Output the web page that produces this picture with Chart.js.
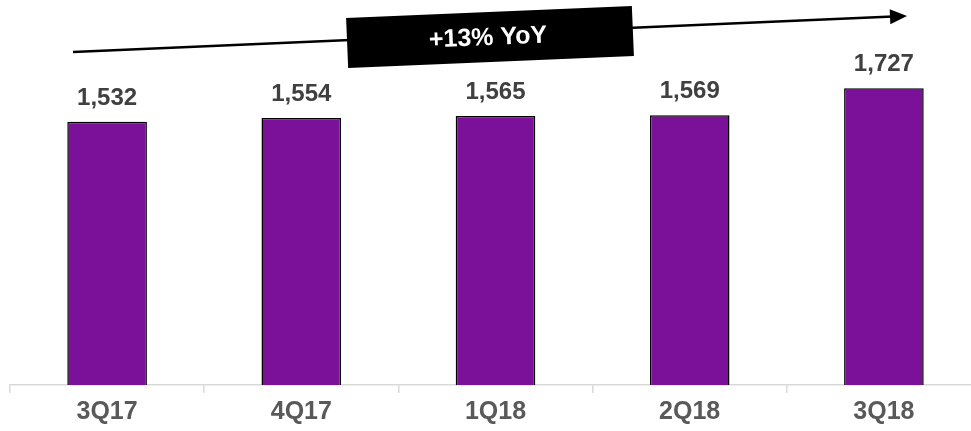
<!DOCTYPE html>
<html>
<head>
<meta charset="utf-8">
<script src="https://cdn.jsdelivr.net/npm/chart.js@4/dist/chart.umd.min.js"></script>
<style>
  html, body { margin: 0; padding: 0; background: #fff; overflow: hidden; }
  #wrap { width: 991px; height: 431px; position: relative; }
</style>
</head>
<body>
<div id="wrap"><canvas id="quarterChart"></canvas></div>
<script>
// quarterly totals
const quarters = ['3Q17', '4Q17', '1Q18', '2Q18', '3Q18'];
const totals = [1532, 1554, 1565, 1569, 1727];
const growthLabel = '+13% YoY';

const BAR_PURPLE = '#7b1199';
const FONT = '"Liberation Sans", Arial, sans-serif';

// value above each bar
const valueLabels = {
    id: 'valueLabels',
    afterDatasetsDraw(chart) {
        const ctx = chart.ctx;
        const meta = chart.getDatasetMeta(0);
        ctx.save();
        ctx.font = 'bold 24px ' + FONT;
        ctx.fillStyle = '#404040';
        ctx.textAlign = 'center';
        ctx.textBaseline = 'alphabetic';
        meta.data.forEach((bar, i) => {
            ctx.fillText(totals[i].toLocaleString('en-US'), bar.x, bar.y - 17);
        });
        ctx.restore();
    }
};

// growth arrow with the tilted black tag
const growthArrow = {
    id: 'growthArrow',
    afterDraw(chart) {
        const ctx = chart.ctx;
        const x0 = 73, y0 = 52, x1 = 907, y1 = 16;
        const ang = Math.atan2(y1 - y0, x1 - x0);
        ctx.save();
        ctx.strokeStyle = '#000';
        ctx.lineWidth = 2.5;
        ctx.beginPath();
        ctx.moveTo(x0, y0);
        ctx.lineTo(x1 - 14 * Math.cos(ang), y1 - 14 * Math.sin(ang));
        ctx.stroke();

        // head
        ctx.translate(x1, y1);
        ctx.rotate(ang);
        ctx.fillStyle = '#000';
        ctx.beginPath();
        ctx.moveTo(0, 0);
        ctx.lineTo(-17, -7.5);
        ctx.lineTo(-17, 7.5);
        ctx.closePath();
        ctx.fill();
        ctx.restore();

        // tag
        ctx.save();
        ctx.translate(490, 37);
        ctx.rotate(-2.4 * Math.PI / 180);
        ctx.fillStyle = '#000';
        ctx.fillRect(-143, -25, 286, 50);
        ctx.fillStyle = '#fff';
        ctx.font = 'bold 25px ' + FONT;
        ctx.textAlign = 'center';
        ctx.textBaseline = 'middle';
        ctx.fillText(growthLabel, -2, 1);
        ctx.restore();
    }
};

new Chart(document.getElementById('quarterChart'), {
    type: 'bar',
    data: {
        labels: quarters,
        datasets: [{
            data: totals,
            backgroundColor: BAR_PURPLE,
            borderColor: '#000',
            borderWidth: { top: 1.5, left: 1.5, right: 1.5, bottom: 0 },
            borderSkipped: 'bottom',
            categoryPercentage: 1,
            barPercentage: 0.41
        }]
    },
    options: {
        responsive: true,
        maintainAspectRatio: false,
        animation: false,
        layout: { padding: { left: 10, right: 10, top: 0, bottom: 0 } },
        plugins: {
            legend: { display: false },
            tooltip: { enabled: false }
        },
        scales: {
            x: {
                offset: true,
                grid: {
                    offset: true,
                    drawOnChartArea: false,
                    drawTicks: true,
                    tickLength: 8,
                    color: '#d9d9d9',
                    lineWidth: 1.5
                },
                border: { color: '#d9d9d9', width: 1.5 },
                ticks: {
                    padding: 4,
                    color: '#595959',
                    font: { family: FONT, size: 25, weight: 'bold' }
                }
            },
            y: {
                display: false,
                min: 0,
                max: 2240
            }
        }
    },
    plugins: [valueLabels, growthArrow]
});
</script>
</body>
</html>
